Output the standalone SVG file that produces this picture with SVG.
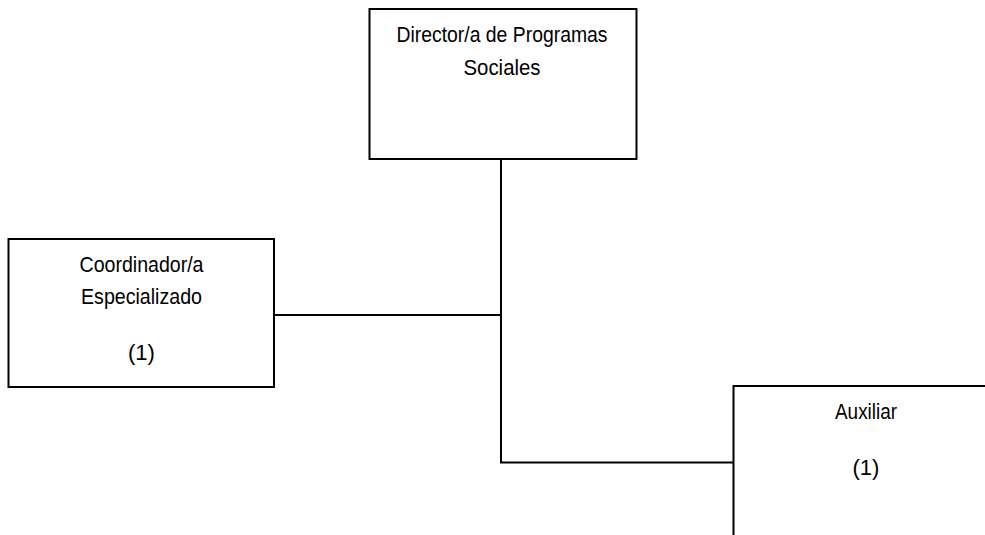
<svg xmlns="http://www.w3.org/2000/svg" width="985" height="535" viewBox="0 0 985 535">
<style>
.box{fill:#fff;stroke:#000;stroke-width:2}
.ln{fill:none;stroke:#000;stroke-width:2}
text{font-family:"Liberation Sans",Arial,sans-serif;font-size:22px;fill:#000;text-anchor:middle}
</style>
<rect width="985" height="535" fill="#fff"/>
<g id="connectors">
<path class="ln" d="M501 159 V462.5 H733.5"/>
<path class="ln" d="M274 315 H501"/>
</g>
<g id="director">
<rect class="box" x="369.5" y="9" width="267" height="150"/>
<text x="502" y="41.5" textLength="211" lengthAdjust="spacingAndGlyphs">Director/a de Programas</text>
<text x="502" y="74.5" textLength="77" lengthAdjust="spacingAndGlyphs">Sociales</text>
</g>
<g id="coordinador">
<rect class="box" x="8.5" y="239" width="265.5" height="148"/>
<text x="141.5" y="271.5" textLength="124" lengthAdjust="spacingAndGlyphs">Coordinador/a</text>
<text x="141.5" y="304" textLength="121" lengthAdjust="spacingAndGlyphs">Especializado</text>
<text x="141.5" y="360">(1)</text>
</g>
<g id="auxiliar">
<path class="box" d="M733.5 545 V386 H995"/>
<text x="866" y="419" textLength="62" lengthAdjust="spacingAndGlyphs">Auxiliar</text>
<text x="866" y="475">(1)</text>
</g>
</svg>
